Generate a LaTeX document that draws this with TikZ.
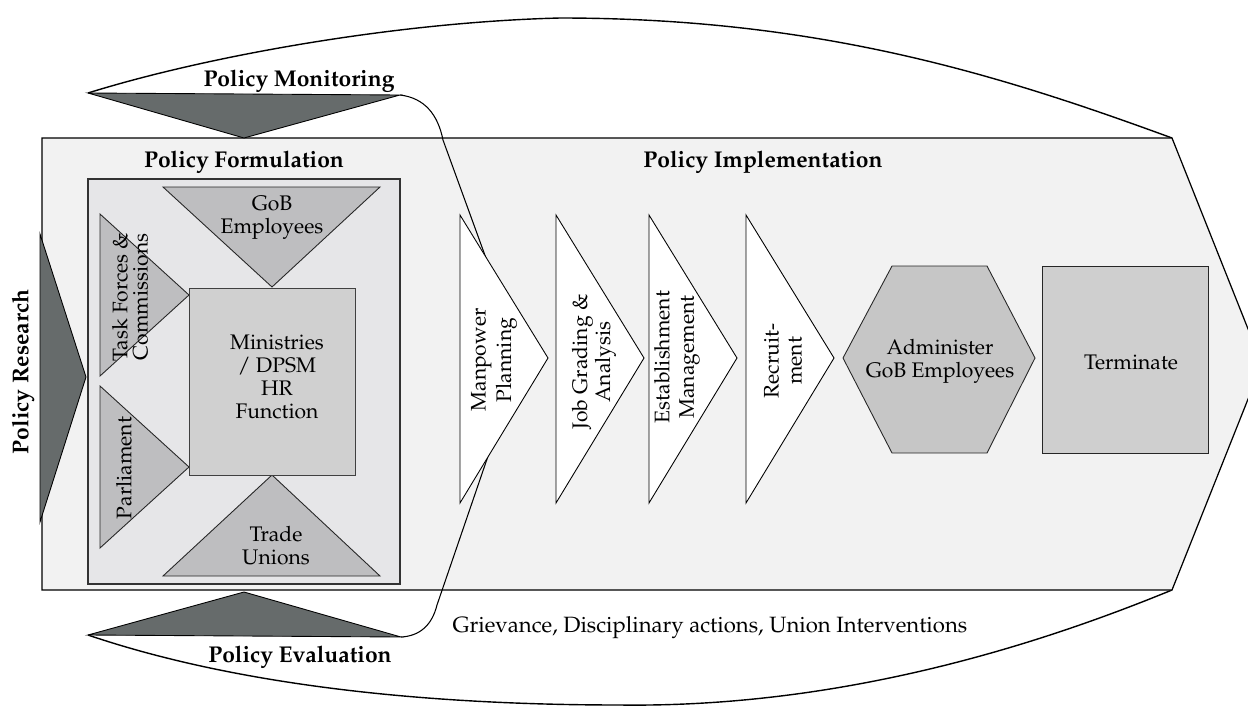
\documentclass[tikz,border=0pt]{standalone}
\usepackage[T1]{fontenc}
\usepackage{mathpazo}
\definecolor{implgray}{RGB}{242,242,242}
\definecolor{formgray}{RGB}{230,230,232}
\definecolor{actorgray}{RGB}{190,190,192}
\definecolor{ministrygray}{RGB}{208,208,208}
\definecolor{admingray}{RGB}{198,198,198}
\definecolor{termgray}{RGB}{207,207,207}
\definecolor{policydark}{RGB}{102,107,107}
\tikzset{policyarrow/.style = {fill=policydark, draw=black, line width=0.5pt},
         actor/.style = {fill=actorgray, draw=black!85, line width=0.5pt},
         chevron/.style = {fill=white, draw=black, line width=0.5pt},
         stagetext/.style = {font=\fontsize{12}{13}\selectfont, align=center, inner sep=0pt},
         headtext/.style = {font=\fontsize{13}{15}\selectfont\bfseries, inner sep=0pt}}

\begin{document}
\begin{tikzpicture}[x=0.02cm, y=-0.02cm, line join=miter]
\useasboundingbox (0,0) rectangle (1248,707);

% corners the loops start and end at
\coordinate (mon-l) at (88,93);
\coordinate (mon-r) at (400,95);
\coordinate (impl-tl) at (42,138);
\coordinate (impl-tr) at (1172,138);
\coordinate (impl-tip) at (1262,364);
\coordinate (impl-br) at (1172,590);
\coordinate (impl-bl) at (42,590);
\coordinate (eva-l) at (88,635);
\coordinate (eva-r) at (401,637);
\coordinate (turn) at (522,357);

% outer loops
\draw [line width=0.8pt] (mon-l) .. controls (210,55) and (400,22) .. (560,18)
      .. controls (820,18) and (1000,75) .. (impl-tr);
\draw [line width=0.8pt] (eva-l) .. controls (250,690) and (450,705) .. (620,705)
      .. controls (850,708) and (1050,640) .. (impl-br);

% implementation arrow
\draw [fill=implgray, line width=0.7pt] (impl-tl) -- (impl-tr) -- (impl-tip) -- (impl-br) -- (impl-bl) -- cycle;

% feedback line
\draw [line width=0.6pt] (mon-r) .. controls (425,98) and (438,115) .. (443,140) -- (turn)
      -- (437,605) .. controls (432,625) and (420,636) .. (eva-r);

% policy formulation
\draw [fill=formgray, draw=black!80, line width=0.6pt] (88,179) rectangle (400,584);
\draw [actor] (163,187) -- (380,187) -- (272,287) -- cycle;
\draw [actor] (272,475) -- (380,576) -- (163,576) -- cycle;
\draw [actor] (100,214) -- (189,295) -- (100,376) -- cycle;
\draw [actor] (100,386) -- (189,467) -- (100,548) -- cycle;
\draw [fill=ministrygray, draw=black!75, line width=0.5pt] (189,288) rectangle (355,475);

% implementation steps
\foreach \x in {460,556,649,746}
  \draw [chevron] (\x,215) -- (\x+88,358) -- (\x,503) -- cycle;
\draw [fill=admingray, draw=black!85, line width=0.5pt] (843,358) -- (892,266) -- (987,266)
      -- (1035,358) -- (987,453) -- (892,453) -- cycle;
\draw [fill=termgray, draw=black!85, line width=0.5pt] (1042,266) rectangle (1208,453);

% research, monitoring, evaluation
\draw [policyarrow] (mon-l) -- (mon-r) -- (244,138) -- cycle;
\draw [policyarrow] (244,592) -- (eva-r) -- (eva-l) -- cycle;
\draw [policyarrow] (40,234) -- (86,377) -- (40,522) -- cycle;

% texts
\node [headtext] (monitoring) at (299,81) {Policy Monitoring};
\node [headtext] (formulation) at (244,162) {Policy Formulation};
\node [headtext] (implementation) at (763,162) {Policy Implementation};
\node [headtext, rotate=90] (research) at (23,372) {Policy Research};
\node [headtext] (evaluation) at (300,657) {Policy Evaluation};

\node [stagetext] (gob) at (272,218) {GoB\\Employees};
\node [stagetext] (ministries) at (277,377) {Ministries\\ / DPSM\\HR\\Function};
\node [stagetext] (unions) at (276,546) {Trade\\Unions};
\node [stagetext, rotate=90, font=\fontsize{12}{11.5}\selectfont] (taskforces) at (130,297) {Task Forces \&\\Commissions};
\node [stagetext, rotate=90] (parliament) at (124,468) {Parliament};

\node [stagetext, rotate=90, font=\fontsize{12}{14.5}\selectfont] (manpower) at (494,360) {Manpower\\Planning};
\node [stagetext, rotate=90] (grading) at (594,362) {Job Grading \&\\Analysis};
\node [stagetext, rotate=90, font=\fontsize{12}{14}\selectfont] (establishment) at (677,357) {Establishment\\Management};
\node [stagetext, rotate=90] (recruitment) at (783,361) {Recruit-\\ment};
\node [stagetext] (administer) at (940,361) {Administer\\GoB Employees};
\node [stagetext] (terminate) at (1131,362) {Terminate};

\node [stagetext, font=\fontsize{12.6}{14}\selectfont] (grievance) at (710,628) {Grievance, Disciplinary actions, Union Interventions};
\end{tikzpicture}
\end{document}
